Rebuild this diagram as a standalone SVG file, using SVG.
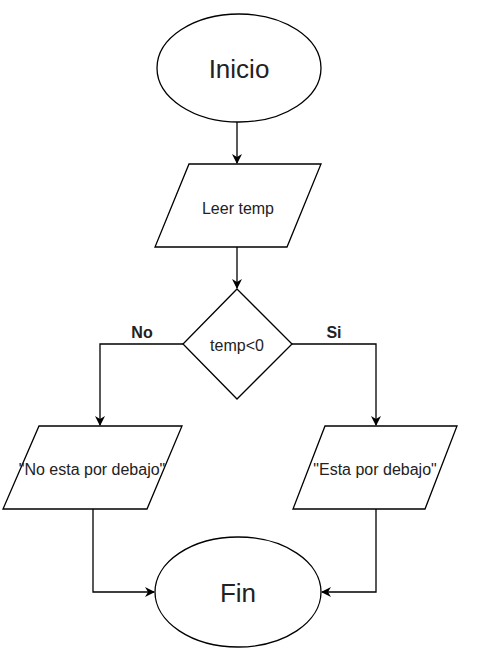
<svg xmlns="http://www.w3.org/2000/svg" width="479" height="665" viewBox="0 0 479 665">
<style>
.s{fill:#fff;stroke:#000;stroke-width:1.3}
.c{fill:none;stroke:#000;stroke-width:1.3}
text{font-family:"Liberation Sans",Arial,sans-serif;fill:#222;text-anchor:middle;dominant-baseline:central}
.t{font-size:16px}
.b{font-size:26px}
.l{font-size:16px;font-weight:bold}
</style>
<defs>
<marker id="a" markerWidth="10" markerHeight="10" refX="9" refY="5" orient="auto" markerUnits="userSpaceOnUse">
<path d="M0,0 L10,5 L0,10 L3,5 Z" fill="#000"/>
</marker>
</defs>
<rect width="479" height="665" fill="#fff"/>
<g id="connectors">
<line class="c" x1="237" y1="122" x2="237" y2="163" marker-end="url(#a)"/>
<line class="c" x1="237" y1="247" x2="237" y2="288" marker-end="url(#a)"/>
<polyline class="c" points="183,344 100,344 100,425" marker-end="url(#a)"/>
<polyline class="c" points="292,344 376,344 376,425" marker-end="url(#a)"/>
<polyline class="c" points="93,509 93,592 154,592" marker-end="url(#a)"/>
<polyline class="c" points="376,509 376,592 322,592" marker-end="url(#a)"/>
<text class="l" x="142" y="332">No</text>
<text class="l" x="334" y="332">Si</text>
</g>
<g id="inicio">
<ellipse class="s" cx="239" cy="68" rx="82" ry="54"/>
<text class="b" x="239" y="69">Inicio</text>
</g>
<g id="leer">
<polygon class="s" points="189,164 321,164 287,247 155,247"/>
<text class="t" x="238" y="208">Leer temp</text>
</g>
<g id="decision">
<polygon class="s" points="237,289 292,344 237,399 183,344"/>
<text class="t" x="237" y="345">temp&lt;0</text>
</g>
<g id="no">
<polygon class="s" points="39,426 182,426 147,509 3,509"/>
<text class="t" x="92" y="469">"No esta por debajo"</text>
</g>
<g id="si">
<polygon class="s" points="325,426 457,426 425,509 293,509"/>
<text class="t" x="375" y="469">"Esta por debajo"</text>
</g>
<g id="fin">
<ellipse class="s" cx="238" cy="592" rx="83" ry="55"/>
<text class="b" x="238" y="593">Fin</text>
</g>
</svg>
